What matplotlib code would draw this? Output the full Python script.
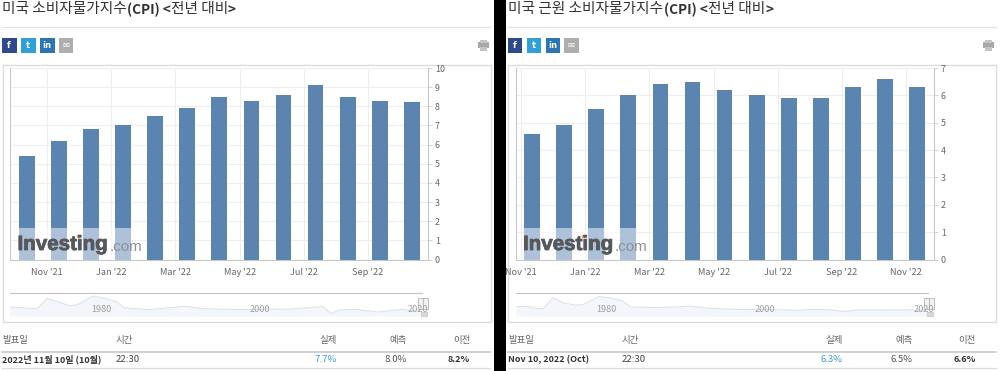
import matplotlib
matplotlib.use("Agg")
import matplotlib.pyplot as plt
import matplotlib.patheffects as pe
from matplotlib.patches import Rectangle

plt.rcParams['font.family'] = ['Noto Sans CJK KR', 'DejaVu Sans']

W, H = 1000, 371

# monthly values, % yoy
cpi_values = [5.4, 6.2, 6.8, 7.0, 7.5, 7.9, 8.5, 8.3, 8.6, 9.1, 8.5, 8.3, 8.2]
core_values = [4.6, 4.9, 5.5, 6.0, 6.4, 6.5, 6.2, 6.0, 5.9, 5.9, 6.3, 6.6, 6.3]

cpi_ticks = ["Nov '21", "Jan '22", "Mar '22", "May '22", "Jul '22", "Sep '22"]
core_ticks = ["Nov '21", "Jan '22", "Mar '22", "May '22", "Jul '22", "Sep '22", "Nov '22"]

# navigator series (year, value)
nav_years = [1968, 1970, 1971, 1972, 1973.2, 1974.5, 1976, 1977, 1979, 1980.5, 1982, 1983,
             1986, 1989, 1990.5, 1993, 1997, 2001, 2004, 2006, 2008, 2009, 2010, 2012,
             2015, 2018, 2020, 2021, 2022.5]
nav_cpi = [4.5, 3.8, 3.2, 3.4, 11.5, 9.0, 5.5, 6.2, 13.5, 11.5, 8.5, 3.8,
           2.2, 4.0, 5.0, 3.0, 2.3, 2.6, 2.8, 3.8, 4.8, -1.0, 1.8, 2.5,
           0.3, 2.4, 1.0, 5.0, 8.2]
nav_core = [4.5, 5.0, 3.5, 3.0, 12.0, 8.0, 6.0, 6.5, 13.0, 12.0, 9.5, 4.5,
            4.0, 4.5, 5.2, 3.3, 2.4, 2.4, 1.6, 2.5, 2.2, 1.5, 0.8, 2.2,
            1.9, 2.2, 1.5, 3.5, 6.3]

cpi_table = ["2022년 11월 10일 (10월)", "22:30", "7.7%", "8.0%", "8.2%"]
core_table = ["Nov 10, 2022 (Oct)", "22:30", "6.3%", "6.5%", "6.6%"]
table_head = ["발표일", "시간", "실제", "예측", "이전"]

BAR = "#5b84b1"
GRID = "#eeeeee"
TXT = "#666666"

fig = plt.figure(figsize=(W / 100, H / 100), dpi=100, facecolor="white")
bg = fig.add_axes([0, 0, 1, 1])
bg.set_xlim(0, W)
bg.set_ylim(H, 0)
bg.axis("off")

# top layer for watermark and navigator labels
top = fig.add_axes([0, 0, 1, 1], facecolor="none", zorder=5)
top.set_xlim(0, W)
top.set_ylim(H, 0)
top.axis("off")


def px_axes(x0, y0, x1, y1):
    return fig.add_axes([x0 / W, 1 - y1 / H, (x1 - x0) / W, (y1 - y0) / H])


def panel(ox, title, title_x, values, ymax, ticks, tick0, plot_l, plot_r, first_bar, nav_vals, row, year0):
    # title
    bg.text(ox + 2, 9.5, title, fontsize=10.6, color="#333333", va="center")
    bg.text(ox + title_x[0], 10, "(CPI) <", fontsize=9.8, fontweight="bold", color="#333333", va="center")
    bg.text(ox + title_x[1], 9.5, "전년 대비", fontsize=10.6, color="#333333", va="center")
    bg.text(ox + title_x[2], 10, ">", fontsize=9.8, fontweight="bold", color="#333333", va="center")
    bg.plot([ox + 2, ox + 490], [27, 27], color="#e2e2e2", lw=0.9)

    # share buttons
    for bx, col, s in [(2, "#2f4a8a", "f"), (21, "#2f9fd8", "t"), (40, "#2c74b3", "in"), (58.5, "#aeaeae", "✉")]:
        bg.add_patch(Rectangle((ox + bx, 38), 14.5, 15, facecolor=col, edgecolor="none"))
        bg.text(ox + bx + 7.2, 45.5, s, color="white", fontsize=6, fontweight="bold",
                ha="center", va="center", family=["DejaVu Sans"])
    # printer
    bg.add_patch(Rectangle((ox + 477.5, 42), 11, 6, facecolor="#a8a8a8", edgecolor="none"))
    bg.add_patch(Rectangle((ox + 479.5, 39.5), 7, 3, facecolor="#c4c4c4", edgecolor="none"))
    bg.add_patch(Rectangle((ox + 479.5, 47), 7, 3.5, facecolor="#c4c4c4", edgecolor="none"))

    # chart frame
    bg.add_patch(Rectangle((ox + 2.5, 65), 488, 257, facecolor="none", edgecolor="#dcdcdc", lw=1))

    # bars
    step = 32.1
    ax = px_axes(plot_l, 68, plot_r, 259.5)
    xs = list(range(len(values)))
    ax.bar(xs, values, width=0.49, color=BAR, zorder=3)
    ax.set_xlim((plot_l - first_bar) / step, (plot_r - first_bar) / step)
    ax.set_ylim(0, ymax)
    ax.yaxis.tick_right()
    ax.set_yticks(range(ymax + 1))
    ax.set_xticks([(tick0 - first_bar) / step + 2 * i for i in range(len(ticks))])
    ax.set_xticklabels(ticks)
    ax.tick_params(axis="x", length=0, pad=6, labelsize=6.6, labelcolor=TXT)
    ax.tick_params(axis="y", length=3, width=0.6, color="#cccccc", pad=2, labelsize=6.4, labelcolor=TXT)
    ax.grid(True, color=GRID, lw=0.8, zorder=0)
    ax.spines["top"].set_visible(False)
    for k in ("left", "right", "bottom"):
        ax.spines[k].set_color("#c8c8c8")
        ax.spines[k].set_linewidth(0.8)

    # watermark over the first bars
    top.add_patch(Rectangle((plot_l + 8, 228), 113, 31.5, facecolor="white", edgecolor="none", alpha=0.5))
    wm_x = plot_l + 7.5
    top.text(wm_x, 244.5, "Investing", fontsize=14.8, fontweight="bold", color="#55585c", va="center",
             family=["Liberation Sans"], path_effects=[pe.withStroke(linewidth=0.6, foreground="#55585c")])
    top.text(wm_x + 92, 247, ".com", fontsize=11, color="#8e9196", va="center", family=["Liberation Sans"])
    top.plot([wm_x + 60], [236], marker="o", ms=1.6, color="#f0a830")

    # navigator
    nav = px_axes(plot_l, 293, plot_r - 6, 316)
    nav.patch.set_alpha(0)
    xscale = 7.93
    nav.set_xlim(1980 + (plot_l - year0) / xscale, 1980 + (plot_r - 6 - year0) / xscale)
    nav.set_ylim(-3, 16)
    nav.fill_between(nav_years, nav_vals, -3, color="#f3f6fa", lw=0)
    nav.plot(nav_years, nav_vals, color="#dde3ea", lw=0.8)
    for k in ("left", "right", "bottom"):
        nav.spines[k].set_visible(False)
    nav.spines["top"].set_color("#c4c4c4")
    nav.set_xticks([])
    nav.set_yticks([])
    for yr in (1980, 2000, 2020):
        top.text(year0 + (yr - 1980) * xscale, 309.5, str(yr), fontsize=6.6, color="#a0a0a0", ha="center", va="center")
    hx = plot_r - 10
    for dx in (0, 5):
        top.add_patch(Rectangle((hx + dx, 298), 4.5, 11, facecolor="#f2f2f2", edgecolor="#b5b5b5", lw=0.6))
    top.add_patch(Rectangle((hx + 3, 312), 6, 4, facecolor="#d8d8d8", edgecolor="#c0c0c0", lw=0.5))

    # table
    cols = [(ox + 2.5, "left"), (ox + 116, "left"), (ox + 337, "right"), (ox + 407, "right"), (ox + 470, "right")]
    for (cx, ha), s in zip(cols, table_head):
        bg.text(cx, 341, s, fontsize=6.8, color="#666666", ha=ha, va="center")
    bg.plot([ox + 2, ox + 490], [351.5, 351.5], color="#c4c4c4", lw=1.1)
    styles = [("#333333", "bold"), ("#444444", "normal"), ("#3d9bd8", "normal"), ("#555555", "normal"), ("#333333", "bold")]
    for (cx, ha), s, (c, w) in zip(cols, row, styles):
        bg.text(cx, 359.5, s, fontsize=6.5 if w == "bold" else 6.9, color=c, fontweight=w, ha=ha, va="center")
    bg.plot([ox + 2, ox + 490], [368, 368], color="#dddddd", lw=0.9)


panel(0, "미국 소비자물가지수", (127, 171, 228), cpi_values, 10, cpi_ticks, 47, 10, 428, 26.7,
      nav_cpi, cpi_table, 101)
panel(505.5, "미국 근원 소비자물가지수", (158, 202, 260), core_values, 7, core_ticks, 521, 515.5, 934, 532,
      nav_core, core_table, 606.7)

# black divider between the two screenshots
fig.add_artist(Rectangle((494 / W, 0), 12 / W, 1, transform=fig.transFigure, facecolor="black", edgecolor="none", zorder=10))

fig.savefig("out.png", dpi=100)
